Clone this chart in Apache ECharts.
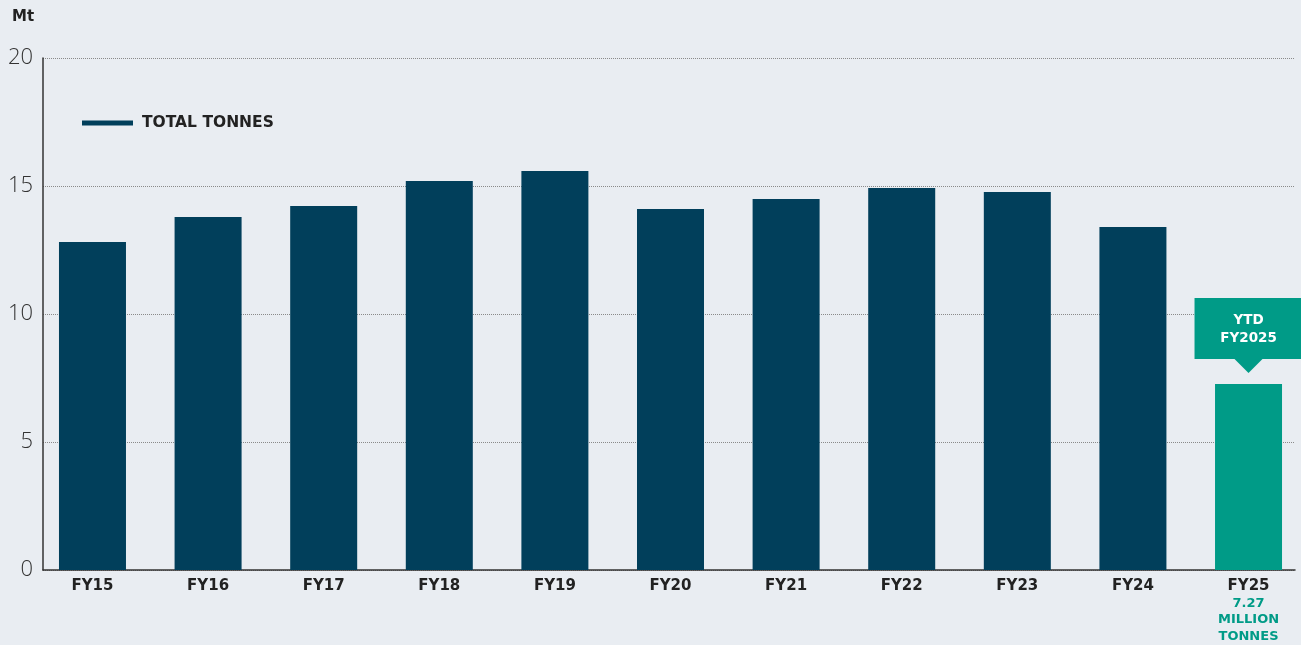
<!DOCTYPE html>
<html>
<head>
<meta charset="utf-8">
<script src="https://cdn.jsdelivr.net/npm/echarts@6/dist/echarts.min.js"></script>
<style>
html,body{margin:0;padding:0;background:#E9EDF2;}
#c{width:1301px;height:645px;}
</style>
</head>
<body>
<div id="c"></div>
<script>
const categories = ['FY15','FY16','FY17','FY18','FY19','FY20','FY21','FY22','FY23','FY24','FY25'];
const totalTonnes = [12.81, 13.79, 14.22, 15.2, 15.59, 14.1, 14.49, 14.92, 14.77, 13.4, 7.27];
const yTicks = [0, 5, 10, 15, 20];
const seriesName = 'TOTAL TONNES';
const unitLabel = 'Mt';
const calloutText = 'YTD\nFY2025';
const ytdNote = ['7.27', 'MILLION', 'TONNES'];

const DARK = '#013F5B', TEAL = '#009B87', FONT = 'DejaVu Sans';

const chart = echarts.init(document.getElementById('c'));
const lastIdx = categories.length - 1;
const data = totalTonnes.map((v, i) => {
  const item = { value: [i, v] };
  if (i === lastIdx) {
    item.itemStyle = { color: TEAL };
    item.label = {
      show: true, position: 'top', distance: 25,
      formatter: calloutText,
      color: '#fff', fontFamily: FONT, fontWeight: 'bold', fontSize: 13.5,
      lineHeight: 18, backgroundColor: TEAL, width: 108, align: 'center',
      padding: [14, 0, 11, 0]
    };
  }
  return item;
});

chart.setOption({
  backgroundColor: '#E9EDF2',
  animation: false,
  grid: { left: 43, right: 6, top: 58, bottom: 75 },
  legend: {
    left: 82, top: 115, padding: 0, icon: 'rect', itemWidth: 51, itemHeight: 5,
    itemStyle: { borderWidth: 0 },
    textStyle: { color: '#222', fontFamily: FONT, fontWeight: 'bold', fontSize: 15.5, padding: [0, 0, 0, 4] },
    data: [{ name: seriesName, itemStyle: { color: DARK } }]
  },
  graphic: [{
    type: 'text', left: 12, top: 10,
    style: { text: unitLabel, fill: '#222', font: 'bold 15px "DejaVu Sans"' }
  }],
  xAxis: {
    type: 'value', min: -0.428, max: 10.402,
    axisLine: { show: true, onZero: false, lineStyle: { color: '#333', width: 1.5 } },
    axisTick: { show: false },
    splitLine: { show: false },
    axisLabel: {
      customValues: categories.map((c, i) => i),
      margin: 8,
      formatter: (v) => {
        const i = Math.round(v);
        if (i === lastIdx) return '{a|' + categories[i] + '}\n' + ytdNote.map(t => '{b|' + t + '}').join('\n');
        return '{a|' + categories[i] + '}';
      },
      rich: {
        a: { color: '#222', fontFamily: FONT, fontWeight: 'bold', fontSize: 15, lineHeight: 17 },
        b: { color: TEAL, fontFamily: FONT, fontWeight: 'bold', fontSize: 13, lineHeight: 16.5 }
      }
    }
  },
  yAxis: {
    type: 'value', min: 0, max: 20, interval: 5,
    axisLine: { show: true, onZero: false, lineStyle: { color: '#333', width: 1.5 } },
    axisTick: { show: false },
    splitLine: { show: true, lineStyle: { color: '#8a8a8a', type: 'dotted', width: 1 } },
    axisLabel: {
      margin: 10, color: '#333', fontFamily: 'Open Sans', fontWeight: 300, fontSize: 22,
      customValues: yTicks
    }
  },
  series: [{
    name: seriesName, type: 'bar', barWidth: 67,
    itemStyle: { color: DARK },
    data: data,
    markPoint: {
      silent: true,
      symbol: 'triangle', symbolRotate: 180, symbolSize: [28, 14],
      symbolOffset: [0, -18],
      itemStyle: { color: TEAL },
      label: { show: false },
      data: [{ coord: [lastIdx, totalTonnes[lastIdx]] }]
    }
  }]
});
</script>
</body>
</html>
